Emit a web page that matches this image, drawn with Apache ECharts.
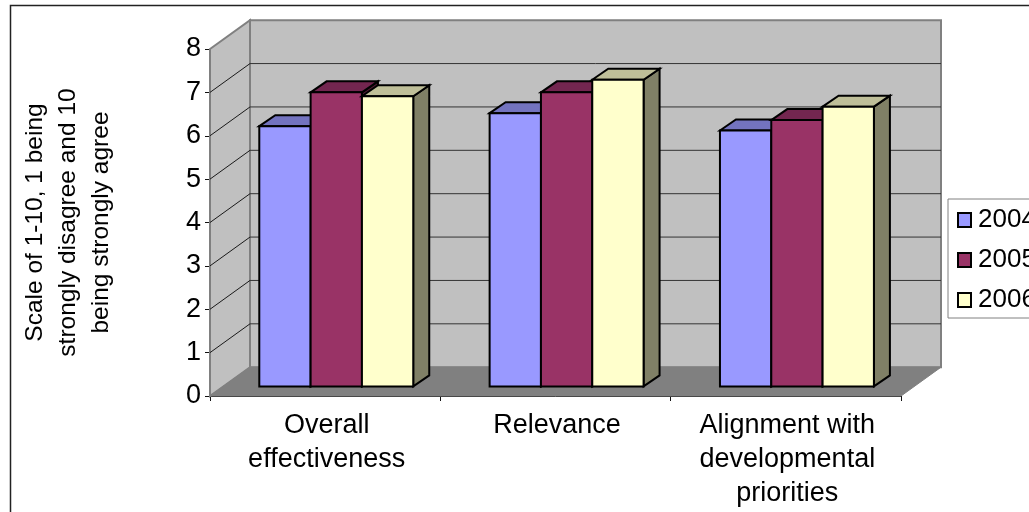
<!DOCTYPE html>
<html><head><meta charset="utf-8">
<style>html,body{margin:0;padding:0;background:#fff}#c{width:1029px;height:512px}</style>
<script src="https://cdn.jsdelivr.net/npm/echarts@6/dist/echarts.min.js"></script>
</head><body><div id="c"></div>
<script>
var categories = ['Overall\neffectiveness', 'Relevance', 'Alignment with\ndevelopmental\npriorities'];
var years = ['2004', '2005', '2006'];
var v2004 = [6.0, 6.3, 5.9];
var v2005 = [6.78, 6.78, 6.14];
var v2006 = [6.69, 7.07, 6.45];
var yTicks = [0, 1, 2, 3, 4, 5, 6, 7, 8];
var yTitle = 'Scale of 1-10, 1 being\nstrongly disagree and 10\nbeing strongly agree';

var FONT = '"Liberation Sans", Arial, sans-serif';
var FS = 27;
var frontCol = ['#9999FF', '#993366', '#FFFFCC'];
var topCol = ['#7373BF', '#732650', '#BFBF99'];
var sideCol = ['#4D4D80', '#4D1A33', '#808066'];
var WALL = [40, -28.8];      // depth of the 3D box, px
var BAR_SHIFT = [0, -9.6];   // bars stand this far into the floor, px
var BAR_DEPTH = [16, -11];
var GROUP_START = 0.214, BAR_W = 0.2228;

function poly(points, fill, stroke, lw) {
  return {type: 'polygon', shape: {points: points},
    style: {fill: fill, stroke: stroke, lineWidth: lw || 0, lineJoin: 'miter'}, silent: true};
}
function line(x1, y1, x2, y2, stroke, lw) {
  return {type: 'line', shape: {x1: x1, y1: y1, x2: x2, y2: y2},
    style: {stroke: stroke, lineWidth: lw || 1}, silent: true};
}

function renderWalls(params, api) {
  var tick = api.value(0);
  var band = api.size([1, 0])[0];
  var p0 = api.coord([0, 0]), pTop = api.coord([0, 8]);
  var L = p0[0] - band / 2, R = L + band * 3;
  var y0 = p0[1], y8 = pTop[1];
  var dx = WALL[0], dy = WALL[1];
  var kids = [];
  if (params.dataIndex === 0) {
    kids.push(poly([[L + dx, y8 + dy], [R + dx, y8 + dy], [R + dx, y0 + dy], [L + dx, y0 + dy]], '#C0C0C0', '#808080', 2));
    kids.push(poly([[L, y8], [L + dx, y8 + dy], [L + dx, y0 + dy], [L, y0]], '#C0C0C0', '#808080', 2));
    kids.push(poly([[L, y0], [L + dx, y0 + dy], [R + dx, y0 + dy], [R, y0]], '#808080', '#808080', 1));
  } else if (tick < 8) {
    var y = api.coord([0, tick])[1];
    kids.push(line(L, y, L + dx, y + dy, '#1a1a1a', 1));
    kids.push(line(L + dx, y + dy, R + dx, y + dy, '#333333', 1));
  }
  return {type: 'group', children: kids};
}

function makeBars(s) {
  return function (params, api) {
    var cat = api.value(0), val = api.value(1);
    var band = api.size([1, 0])[0];
    var c0 = api.coord([cat, 0]), c1 = api.coord([cat, val]);
    var w = band * BAR_W;
    var x1 = c0[0] - band / 2 + band * GROUP_START + s * w, x2 = x1 + w;
    var yb = c0[1] + BAR_SHIFT[1], yt = c1[1] + BAR_SHIFT[1];
    var dx = BAR_DEPTH[0], dy = BAR_DEPTH[1];
    return {type: 'group', children: [
      poly([[x2, yt], [x2 + dx, yt + dy], [x2 + dx, yb + dy], [x2, yb]], sideCol[s], '#000', 2),
      poly([[x1, yt], [x1 + dx, yt + dy], [x2 + dx, yt + dy], [x2, yt]], topCol[s], '#000', 2),
      poly([[x1, yt], [x2, yt], [x2, yb], [x1, yb]], frontCol[s], '#000', 2)
    ]};
  };
}

var values = [v2004, v2005, v2006];
var series = [{
  type: 'custom', name: 'walls', silent: true, clip: false,
  data: yTicks.map(function (t) { return [t]; }),
  encode: {x: -1, y: -1},
  renderItem: renderWalls, z: 1
}];
years.forEach(function (yr, s) {
  series.push({
    type: 'custom', name: yr, clip: false, z: 2 + s,
    itemStyle: {color: frontCol[s], borderColor: '#000', borderWidth: 1.5},
    data: values[s].map(function (v, i) { return [i, v]; }),
    encode: {x: 0, y: 1},
    renderItem: makeBars(s)
  });
});

var chart = echarts.init(document.getElementById('c'), null, {renderer: 'canvas'});
chart.setOption({
  animation: false,
  backgroundColor: '#fff',
  tooltip: {show: false},
  graphic: [{type: 'rect', z: -1, silent: true,
    shape: {x: 10.5, y: 5.5, width: 1100, height: 600},
    style: {fill: '#fff', stroke: '#222', lineWidth: 1.5}}],
  grid: {left: 210, width: 691, top: 49, height: 347, containLabel: false, outerBoundsMode: 'none'},
  legend: {
    left: 948, top: 199, orient: 'vertical',
    data: years, selectedMode: false,
    backgroundColor: '#fff', borderColor: '#808080', borderWidth: 1,
    padding: [8, 10, 5, 9], itemGap: 14, itemWidth: 13, itemHeight: 14,
    icon: 'rect',
    textStyle: {fontFamily: FONT, fontSize: 26, color: '#000', padding: [0, 0, 0, 2]}
  },
  xAxis: {
    type: 'category', data: categories,
    axisLine: {lineStyle: {color: '#111', width: 1}},
    axisTick: {show: true, length: 5, alignWithLabel: false, lineStyle: {color: '#111'}},
    axisLabel: {fontFamily: FONT, fontSize: FS, color: '#000', lineHeight: 34, margin: 13, interval: 0, padding: [0, 0, 0, 3]},
    splitLine: {show: false}
  },
  yAxis: {
    type: 'value', min: 0, max: 8, interval: 1,
    axisLine: {show: true, lineStyle: {color: '#111', width: 1}},
    axisTick: {show: true, length: 5, lineStyle: {color: '#111'}},
    axisLabel: {fontFamily: FONT, fontSize: FS, color: '#000', margin: 9, lineHeight: 30, padding: [4, 0, 0, 0]},
    splitLine: {show: false},
    name: yTitle, nameLocation: 'middle', nameRotate: 90, nameGap: 92, nameMoveOverlap: false,
    nameTextStyle: {fontFamily: FONT, fontSize: 24.5, color: '#000', lineHeight: 33, align: 'center'}
  },
  series: series
});
</script></body></html>
